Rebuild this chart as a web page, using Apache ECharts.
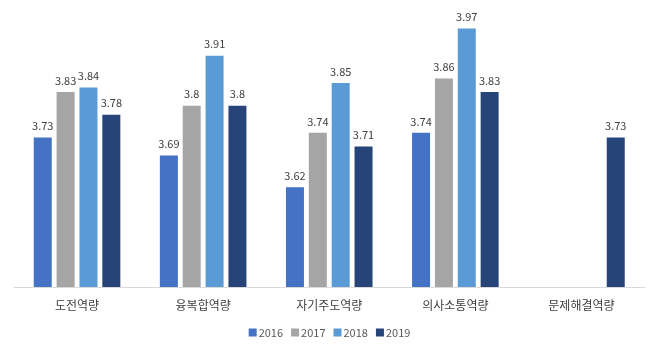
<!DOCTYPE html>
<html><head><meta charset="utf-8">
<script src="https://cdn.jsdelivr.net/npm/echarts@6/dist/echarts.min.js"></script>
<style>html,body{margin:0;padding:0;background:#fff}#c{width:659px;height:355px}</style>
</head><body><div id="c"></div>
<script>
const categories = ['도전역량','융복합역량','자기주도역량','의사소통역량','문제해결역량'];
const years = ['2016','2017','2018','2019'];
const v2016 = [3.73, 3.69, 3.62, 3.74, null];
const v2017 = [3.83, 3.8, 3.74, 3.86, null];
const v2018 = [3.84, 3.91, 3.85, 3.97, null];
const v2019 = [3.78, 3.8, 3.71, 3.83, 3.73];
const colors = ['#4472C4','#A5A5A5','#5B9BD5','#264478'];
const all = [v2016, v2017, v2018, v2019];
const font = '"Malgun Gothic","Noto Sans CJK KR",sans-serif';
const chart = echarts.init(document.getElementById('c'));
chart.setOption({
  animation:false,
  color: colors,
  grid:{left:14, right:14.5, top:15, bottom:68},
  legend:{bottom:12, left:'center', itemWidth:8, itemHeight:8, itemGap:8,
    textStyle:{color:'#595959', fontSize:11, fontFamily:font, padding:[0,0,0,-3]}, icon:'rect',
    data: years},
  xAxis:{type:'category', data:categories,
    axisLine:{lineStyle:{color:'#D9D9D9'}}, axisTick:{show:false},
    axisLabel:{color:'#404040', fontSize:12, margin:12, fontFamily:font}},
  yAxis:{type:'value', min:3.4, max:4.0, show:false, splitLine:{show:false}},
  series: all.map((d,i)=>({
    name: years[i], type:'bar', data:d, barWidth:18, barGap:'27%',
    label:{show:true, position:'top', distance:6, color:'#404040', fontSize:11, fontFamily:font}
  }))
});
</script></body></html>
